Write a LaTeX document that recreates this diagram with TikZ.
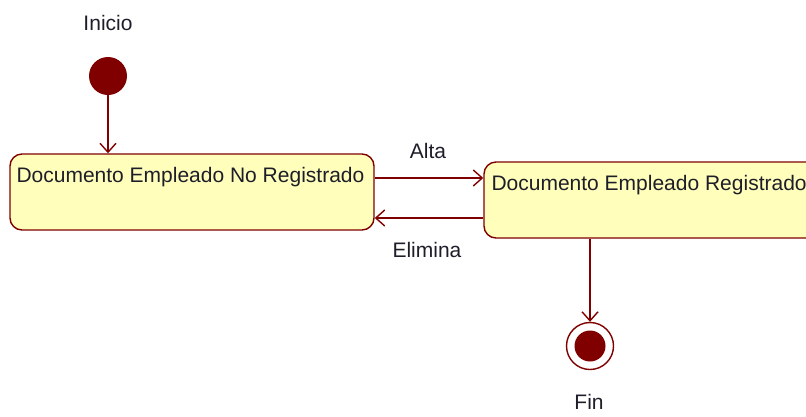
\documentclass[tikz,border=0pt]{standalone}
\usepackage{fontspec}
\setmainfont{Liberation Sans}
\usepackage{xcolor}
\usepackage{tikz}
\usetikzlibrary{arrows.meta}

\definecolor{borde}{HTML}{800000}
\definecolor{relleno}{HTML}{FFFFBB}
\definecolor{letra}{HTML}{1E1E2A}

\begin{document}
\begin{tikzpicture}[x=1pt,y=-1pt, font=\fontsize{21}{25}\selectfont, text=letra,
  estado/.style={draw=borde, fill=relleno, line width=1.4pt, rounded corners=12pt,
                 minimum height=76pt, inner sep=0pt},
  texto/.style={anchor=north west, inner sep=0pt},
  trans/.style={draw=borde, line width=1.4pt, -{Straight Barb[length=9pt,width=16pt]}}]
  \clip (0,0) rectangle (806,416);
  % estado inicial
  \node (inicioTxt) at (108,23) {Inicio};
  \node[circle, fill=borde, minimum size=38pt, inner sep=0pt] (inicio) at (108,76) {};
  % estados
  \node[estado, minimum width=364pt] (noreg) at (192,192) {};
  \node[texto] (noregTxt) at ([shift={(7pt,-14pt)}]noreg.north west) {Documento Empleado No Registrado};
  \node[estado, minimum width=356pt] (reg) at (662,200) {};
  \node[texto] (regTxt) at ([shift={(8pt,-14pt)}]reg.north west) {Documento Empleado Registrado};
  % estado final
  \node[circle, draw=borde, line width=1.4pt, fill=white, minimum size=47pt, inner sep=0pt] (fin) at (590,346) {};
  \node[circle, fill=borde, minimum size=31pt, inner sep=0pt] (finPunto) at (fin) {};
  \node (finTxt) at (589,402) {Fin};
  % transiciones
  \draw[trans] (inicio) -- (noreg.north -| inicio);
  \draw[trans] (noreg.east |- 0,178) -- (reg.west |- 0,178);
  \node (alta) at (428,151) {Alta};
  \draw[trans] (reg.west |- 0,218) -- (noreg.east |- 0,218);
  \node (elimina) at (427,250) {Elimina};
  \draw[trans] (reg.south -| fin) -- (fin.north);
\end{tikzpicture}
\end{document}
